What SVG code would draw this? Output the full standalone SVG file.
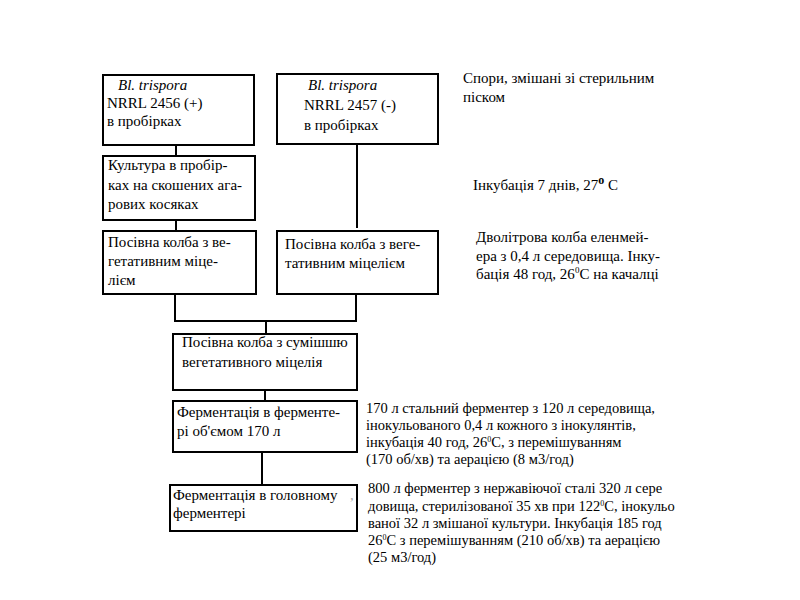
<svg xmlns="http://www.w3.org/2000/svg" width="800" height="600" viewBox="0 0 800 600">
<style>
  .box { fill: #ffffff; stroke: #000000; stroke-width: 2; }
  text { font-family: "Liberation Serif", "DejaVu Serif", serif; fill: #000000; }
  .t { font-size: 15px; }
  .s { font-size: 14.5px; }
  .i { font-style: italic; }
  .conn { stroke: #000000; stroke-width: 2; fill: none; }
</style>
<rect width="800" height="600" fill="#ffffff"/>
<g id="connectors">
  <line class="conn" x1="176" y1="145" x2="176" y2="156"/>
  <line class="conn" x1="176" y1="220" x2="176" y2="231"/>
  <line class="conn" x1="357" y1="144" x2="357" y2="228"/>
  <polyline class="conn" points="175,294 175,321 356,321 356,294"/>
  <line class="conn" x1="266" y1="321" x2="266" y2="334"/>
  <line class="conn" x1="265" y1="390" x2="265" y2="401"/>
  <line class="conn" x1="262" y1="452" x2="262" y2="485"/>
</g>
<g id="node-strain-plus">
  <rect class="box" x="103" y="75" width="151" height="70"/>
  <text class="t i" x="118" y="90" font-family="Liberation Serif, serif">Bl. trispora</text>
  <text class="t" x="107" y="108" font-family="Liberation Serif, serif">NRRL 2456 (+)</text>
  <text class="t" x="107" y="126" font-family="Liberation Serif, serif">в пробірках</text>
</g>
<g id="node-strain-minus">
  <rect class="box" x="277" y="74" width="161" height="70"/>
  <text class="t i" x="308" y="90">Bl. trispora</text>
  <text class="t" x="304" y="110">NRRL 2457 (-)</text>
  <text class="t" x="304" y="130">в пробірках</text>
</g>
<g id="node-culture">
  <rect class="box" x="103" y="156" width="152" height="64"/>
  <text class="t" x="108" y="170">Культура в пробір-</text>
  <text class="t" x="108" y="190">ках на скошених ага-</text>
  <text class="t" x="108" y="209">рових косяках</text>
</g>
<g id="node-seed-1">
  <rect class="box" x="103" y="231" width="153" height="63"/>
  <text class="t" x="108" y="247">Посівна колба з ве-</text>
  <text class="t" x="108" y="266">гетативним міце-</text>
  <text class="t" x="108" y="285">лієм</text>
</g>
<g id="node-seed-2">
  <rect class="box" x="277" y="231" width="161" height="63"/>
  <text class="t" x="285" y="249">Посівна колба з веге-</text>
  <text class="t" x="285" y="268">тативним міцелієм</text>
</g>
<g id="node-mix">
  <rect class="box" x="173" y="334" width="184" height="56"/>
  <text class="t" x="182" y="347">Посівна колба з сумішшю</text>
  <text class="t" x="182" y="367">вегетативного міцелія</text>
</g>
<g id="node-ferm-170">
  <rect class="box" x="173" y="401" width="184" height="51"/>
  <text class="t" x="177" y="417">Ферментація в ферменте-</text>
  <text class="t" x="177" y="436">рі об'ємом 170 л</text>
</g>
<g id="node-ferm-main">
  <rect class="box" x="170" y="485" width="187" height="46"/>
  <text class="t" x="173" y="500">Ферментація в головному</text>
  <text class="t" x="350" y="500" style="fill:#aaaaaa">,</text>
  <text class="t" x="173" y="518">ферментері</text>
</g>
<g id="notes">
  <text class="t" x="463" y="83">Спори, змішані зі стерильним</text>
  <text class="t" x="463" y="102">піском</text>
  <text class="t" x="473" y="190">Інкубація 7 днів, 27<tspan font-weight="bold" font-size="12" dy="-6">o</tspan><tspan dy="6"> С</tspan></text>
  <text class="t" x="476" y="242">Дволітрова колба еленмей-</text>
  <text class="t" x="476" y="261">ера з 0,4 л середовища. Інку-</text>
  <text class="t" x="476" y="279">бація 48 год, 26<tspan font-size="9" dy="-6">0</tspan><tspan dy="6">С на качалці</tspan></text>
  <text class="s" x="366" y="413">170 л стальний ферментер з 120 л середовища,</text>
  <text class="s" x="366" y="430">інокульованого 0,4 л кожного з інокулянтів,</text>
  <text class="s" x="366" y="447">інкубація 40 год, 26<tspan font-size="8" dy="-5">0</tspan><tspan dy="5">С, з перемішуванням</tspan></text>
  <text class="s" x="366" y="464">(170 об/хв) та аерацією (8 м3/год)</text>
  <text class="s" x="368" y="493">800 л ферментер з нержавіючої сталі 320 л сере</text>
  <text class="s" x="368" y="511">довища, стерилізованої 35 хв при 122<tspan font-size="8" dy="-5">0</tspan><tspan dy="5">С, інокульо</tspan></text>
  <text class="s" x="368" y="528">ваної 32 л змішаної культури. Інкубація 185 год</text>
  <text class="s" x="368" y="545">26<tspan font-size="8" dy="-5">0</tspan><tspan dy="5">С з перемішуванням (210 об/хв) та аерацією</tspan></text>
  <text class="s" x="368" y="562">(25 м3/год)</text>
</g>
</svg>
